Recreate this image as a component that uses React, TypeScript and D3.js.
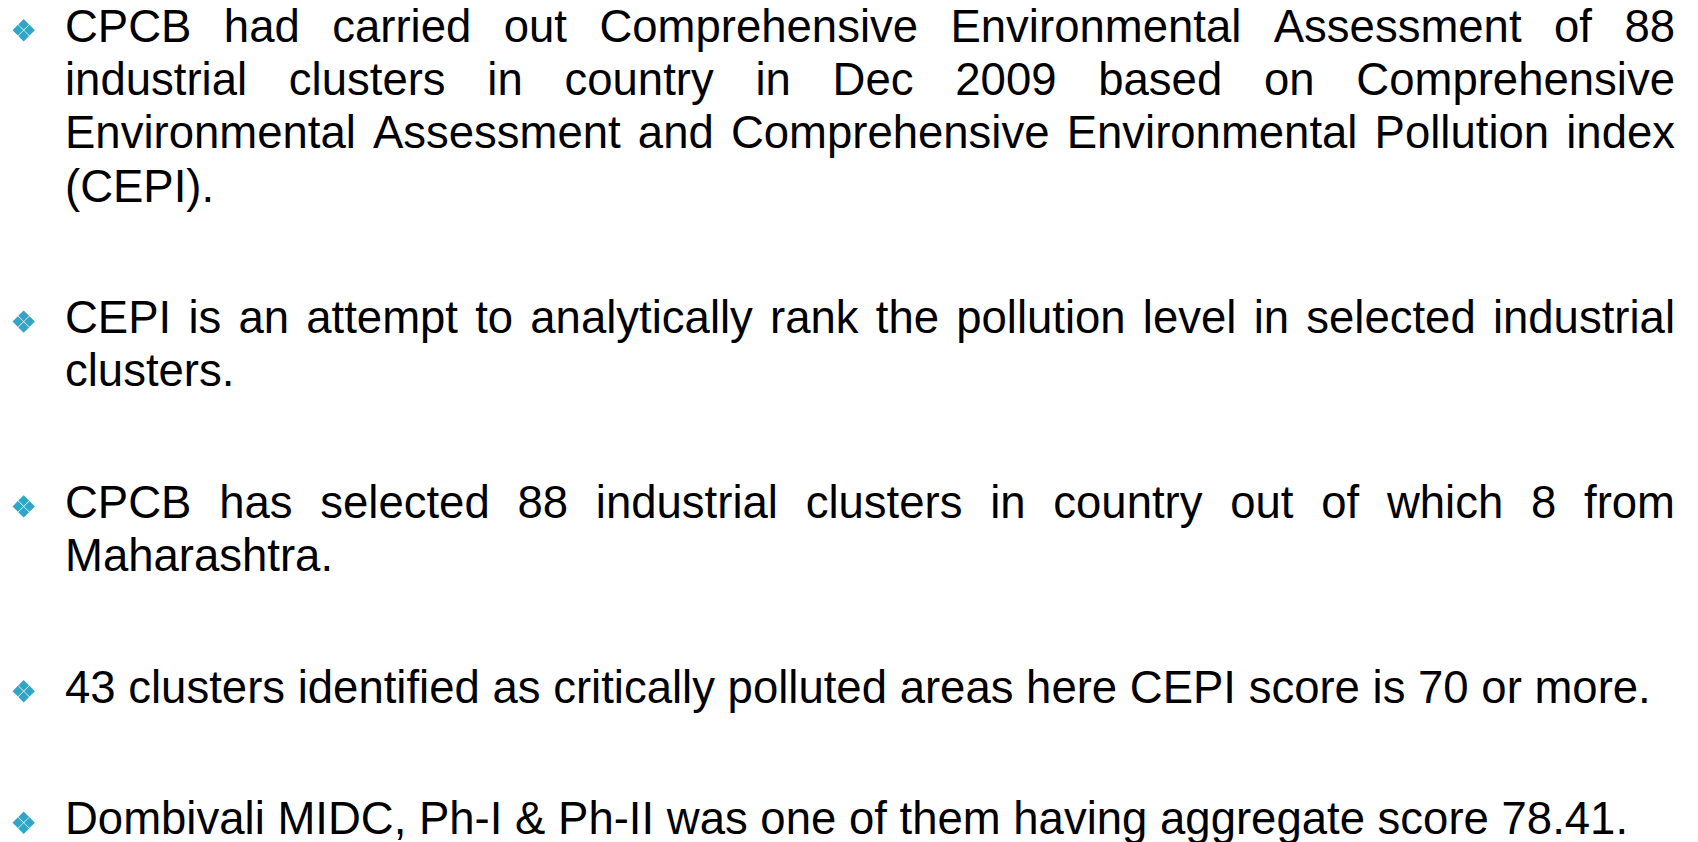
import React, { useRef, useEffect } from "react";
import * as d3 from "d3";

// each bullet is a list of rendered lines; the last line of a bullet is not justified
const BULLET_1 = [
  "CPCB had carried out Comprehensive Environmental Assessment of 88",
  "industrial clusters in country in Dec 2009 based on Comprehensive",
  "Environmental Assessment and Comprehensive Environmental Pollution index",
  "(CEPI).",
];
const BULLET_2 = [
  "CEPI is an attempt to analytically rank the pollution level in selected industrial",
  "clusters.",
];
const BULLET_3 = [
  "CPCB has selected 88 industrial clusters in country out of which 8 from",
  "Maharashtra.",
];
const BULLET_4 = ["43 clusters identified as critically polluted areas here CEPI score is 70 or more."];
const BULLET_5 = ["Dombivali MIDC, Ph-I & Ph-II was one of them having aggregate score 78.41."];

const BULLETS = [BULLET_1, BULLET_2, BULLET_3, BULLET_4, BULLET_5];

const FONT = "'Liberation Sans', Arial, sans-serif";

export default function App() {
  const svgRef = useRef<SVGSVGElement>(null);

  useEffect(() => {
    if (!svgRef.current) return;
    const width = 1698;
    const textLeft = 65;
    const textRight = 1675;
    const fontSize = 45.5;
    const lineH = 53.3;
    const paraGap = 131.5;
    const firstBase = 41.7;

    const svg = d3.select(svgRef.current);
    svg.selectAll("*").remove();
    svg.append("rect").attr("width", width).attr("height", 842).attr("fill", "#ffffff");

    // width of one space at this size
    const probe = svg.append("g");
    const t1 = probe.append("text").attr("font-family", FONT).attr("font-size", fontSize).text("a a");
    const t2 = probe.append("text").attr("font-family", FONT).attr("font-size", fontSize).text("aa");
    const spaceW = (t1.node() as SVGTextElement).getComputedTextLength()
      - (t2.node() as SVGTextElement).getComputedTextLength();
    probe.remove();

    let base = firstBase;
    BULLETS.forEach((lines, bi) => {
      if (bi > 0) base += paraGap;

      // bullet: four small diamonds
      const bg = svg.append("g").attr("transform", `translate(23.7,${base - 11.5})`);
      const d = 5.4;
      const off = 5.8;
      [[0, -off], [off, 0], [0, off], [-off, 0]].forEach(([cx, cy]) => {
        bg.append("path")
          .attr("d", `M${cx},${cy - d}L${cx + d},${cy}L${cx},${cy + d}L${cx - d},${cy}Z`)
          .attr("fill", "#30a5c6");
      });

      lines.forEach((line, li) => {
        if (li > 0) base += lineH;
        const words = line.split(" ");
        const justify = li < lines.length - 1;
        const g = svg.append("g");
        const texts = words.map(w =>
          g.append("text")
            .attr("y", base)
            .attr("font-family", FONT)
            .attr("font-size", fontSize)
            .attr("fill", "#000000")
            .text(w)
        );
        const widths = texts.map(t => (t.node() as SVGTextElement).getComputedTextLength());
        const total = d3.sum(widths);
        const gap = justify && words.length > 1
          ? (textRight - textLeft - total) / (words.length - 1)
          : spaceW;
        let x = textLeft;
        texts.forEach((t, i) => {
          t.attr("x", x);
          x += widths[i] + gap;
        });
      });
    });
  }, []);

  return (
    <svg
      ref={svgRef}
      width={1698}
      height={842}
      style={{ position: "absolute", left: 0, top: 0, display: "block" }}
    />
  );
}
